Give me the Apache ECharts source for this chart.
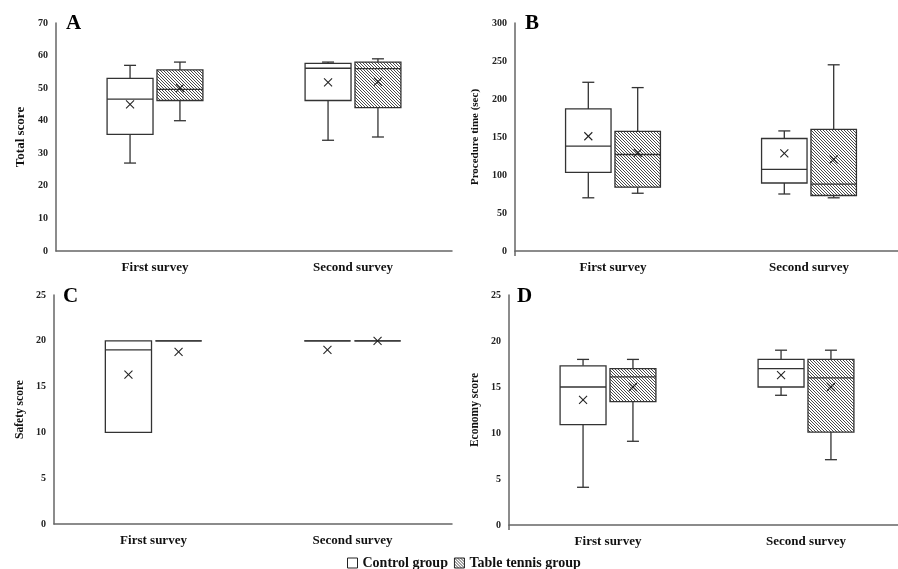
<!DOCTYPE html>
<html>
<head>
<meta charset="utf-8">
<script src="https://cdn.jsdelivr.net/npm/echarts@6/dist/echarts.min.js"></script>
<style>html,body{margin:0;padding:0;background:#fff;overflow:hidden;width:898px;height:569px;}#c{width:912px;height:569px;}</style>
</head>
<body>
<div id="c"></div>
<script>
// ---- data ----
var categories = ['First survey', 'Second survey'];
var groupNames = ['Control group', 'Table tennis group'];
// each row: [categoryIndex, min, q1, median, q3, max, mean]
var totalControl = [[0, 27, 35.8, 46.6, 53, 57, 45], [1, 34, 46.2, 56.1, 57.6, 58, 51.8]];
var totalTable   = [[0, 40, 46.2, 49.6, 55.6, 58, 50], [1, 35, 44, 56, 58, 59, 52]];
var timeControl  = [[0, 70, 103.5, 138, 187, 222, 151], [1, 75, 89.5, 107.5, 148, 158, 128.5]];
var timeTable    = [[0, 76, 84, 127, 157.5, 215, 129], [1, 70, 73, 88, 160, 245, 120.6]];
var safetyControl= [[0, 10, 10, 19, 20, 20, 16.3], [1, 20, 20, 20, 20, 20, 19]];
var safetyTable  = [[0, 20, 20, 20, 20, 20, 18.8], [1, 20, 20, 20, 20, 20, 20]];
var econControl  = [[0, 4.1, 10.9, 15, 17.3, 18, 13.6], [1, 14.1, 15, 17, 18, 19, 16.3]];
var econTable    = [[0, 9.1, 13.4, 16.1, 17, 18, 15], [1, 7.1, 10.1, 16, 18, 19, 15]];
var yNames = ['Total score', 'Procedure time (sec)', 'Safety score', 'Economy score'];
var yMax = [70, 300, 25, 25];
var yInterval = [10, 50, 5, 5];
var panelLetters = ['A', 'B', 'C', 'D'];

// ---- hatch pattern ----
var tile = document.createElement('canvas');
tile.width = 3; tile.height = 3;
var tctx = tile.getContext('2d');
tctx.fillStyle = '#fff'; tctx.fillRect(0, 0, 3, 3);
tctx.fillStyle = '#4a4a4a';
for (var i = 0; i < 3; i++) tctx.fillRect(i, i, 1, 1);
var hatch = {image: tile, repeat: 'repeat'};

var FONT = 'Liberation Serif';
var STROKE = '#333';

function makeRender(offsetFrac, fill) {
  return function (params, api) {
    var cat = api.value(0);
    var band = api.size([1, 0])[0];
    var w = band * 0.232;
    var cx = api.coord([cat, 0])[0] + band * offsetFrac;
    var yMin = api.coord([cat, api.value(1)])[1];
    var yQ1 = api.coord([cat, api.value(2)])[1];
    var yMed = api.coord([cat, api.value(3)])[1];
    var yQ3 = api.coord([cat, api.value(4)])[1];
    var yMaxP = api.coord([cat, api.value(5)])[1];
    var yMean = api.coord([cat, api.value(6)])[1];
    var cap = 6, xs = 4;
    var ls = {stroke: STROKE, lineWidth: 1.3};
    var children = [];
    if (yMin - yQ1 > 0.5) {
      children.push({type: 'line', shape: {x1: cx, y1: yQ1, x2: cx, y2: yMin}, style: ls});
      children.push({type: 'line', shape: {x1: cx - cap, y1: yMin, x2: cx + cap, y2: yMin}, style: ls});
    }
    if (yQ3 - yMaxP > 0.5) {
      children.push({type: 'line', shape: {x1: cx, y1: yQ3, x2: cx, y2: yMaxP}, style: ls});
      children.push({type: 'line', shape: {x1: cx - cap, y1: yMaxP, x2: cx + cap, y2: yMaxP}, style: ls});
    }
    children.push({type: 'rect', shape: {x: cx - w / 2, y: yQ3, width: w, height: Math.max(yQ1 - yQ3, 0)},
      style: {fill: fill, stroke: STROKE, lineWidth: 1.3}});
    children.push({type: 'line', shape: {x1: cx - w / 2, y1: yMed, x2: cx + w / 2, y2: yMed}, style: ls});
    children.push({type: 'line', shape: {x1: cx - xs, y1: yMean - xs, x2: cx + xs, y2: yMean + xs}, style: {stroke: '#222', lineWidth: 1.1}});
    children.push({type: 'line', shape: {x1: cx - xs, y1: yMean + xs, x2: cx + xs, y2: yMean - xs}, style: {stroke: '#222', lineWidth: 1.1}});
    return {type: 'group', children: children};
  };
}

var grids = [
  {left: 56, top: 23, width: 396, height: 228},
  {left: 515, top: 23, width: 392, height: 228},
  {left: 54, top: 295, width: 398, height: 229},
  {left: 509, top: 295, width: 396, height: 230}
];
var nameGaps = [29, 34, 28, 28];
var nameSizes = [13, 11, 11.5, 11.5];
var showTick = [false, true, false, true];
var letterPos = [[66, 13], [525, 13], [63, 286], [517, 286]];
var pairs = [[totalControl, totalTable], [timeControl, timeTable], [safetyControl, safetyTable], [econControl, econTable]];

var xAxes = [], yAxes = [], series = [], titles = [];
for (var p = 0; p < 4; p++) {
  xAxes.push({
    type: 'category', gridIndex: p, data: categories,
    axisLine: {lineStyle: {color: '#666', width: 1.5}},
    axisTick: {show: showTick[p], length: 5, interval: function (idx) { return idx === 1; }, lineStyle: {color: '#666', width: 1.5}},
    axisLabel: {fontFamily: FONT, fontWeight: 'bold', fontSize: 13, color: '#111', margin: 10},
    splitLine: {show: false}
  });
  yAxes.push({
    type: 'value', gridIndex: p, min: 0, max: yMax[p], interval: yInterval[p],
    name: yNames[p], nameLocation: 'middle', nameGap: nameGaps[p],
    nameTextStyle: {fontFamily: FONT, fontWeight: 'bold', fontSize: nameSizes[p], color: '#111'},
    axisLine: {show: true, lineStyle: {color: '#666', width: 1.5}},
    axisTick: {show: false},
    axisLabel: {fontFamily: FONT, fontWeight: 'bold', fontSize: 10, color: '#222', margin: 8},
    splitLine: {show: false}
  });
  series.push({
    type: 'custom', name: groupNames[0], xAxisIndex: p, yAxisIndex: p,
    renderItem: makeRender(-0.126, '#fff'), data: pairs[p][0],
    encode: {x: 0, y: [1, 2, 3, 4, 5, 6]}, itemStyle: {color: '#fff', borderColor: '#000'}
  });
  series.push({
    type: 'custom', name: groupNames[1], xAxisIndex: p, yAxisIndex: p,
    renderItem: makeRender(0.126, hatch), data: pairs[p][1],
    encode: {x: 0, y: [1, 2, 3, 4, 5, 6]}, itemStyle: {color: hatch, borderColor: '#000'}
  });
  titles.push({
    text: panelLetters[p], left: letterPos[p][0], top: letterPos[p][1], padding: 0,
    textStyle: {fontFamily: FONT, fontWeight: 'bold', fontSize: 21, color: '#000'}
  });
}

var chart = echarts.init(document.getElementById('c'));
chart.setOption({
  animation: false,
  backgroundColor: '#fff',
  title: titles,
  grid: grids,
  xAxis: xAxes,
  yAxis: yAxes,
  legend: {
    left: 342, top: 551, itemWidth: 10, itemHeight: 10, itemGap: 6, icon: 'rect',
    textStyle: {fontFamily: FONT, fontWeight: 'bold', fontSize: 14, color: '#111'},
    data: [
      {name: groupNames[0], itemStyle: {color: '#fff', borderColor: '#222', borderWidth: 1}},
      {name: groupNames[1], itemStyle: {color: hatch, borderColor: '#222', borderWidth: 1}}
    ]
  },
  series: series
});
</script>
</body>
</html>
